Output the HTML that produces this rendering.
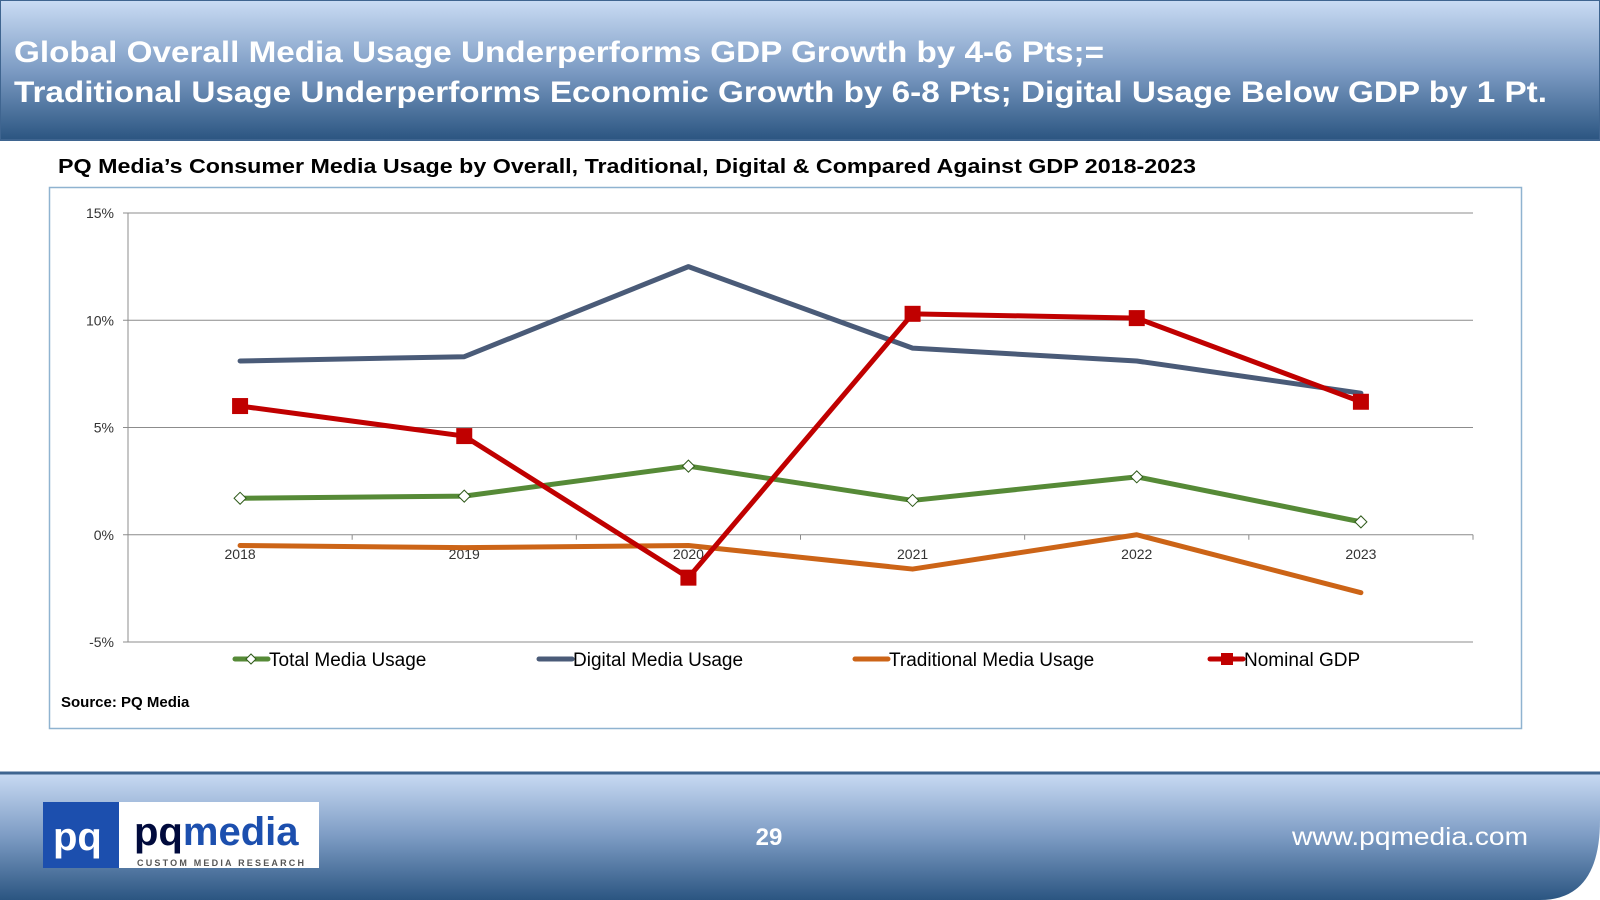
<!DOCTYPE html>
<html><head><meta charset="utf-8">
<style>
html,body{margin:0;padding:0;width:1600px;height:900px;overflow:hidden;background:#fff;font-family:"Liberation Sans",Arial,sans-serif}
svg{display:block}
</style></head>
<body>
<svg width="1600" height="900" viewBox="0 0 1600 900">
<defs>
<linearGradient id="hg" x1="0" y1="0" x2="0" y2="1">
<stop offset="0" stop-color="#cadcf4"/><stop offset="0.5" stop-color="#7d9cc4"/><stop offset="1" stop-color="#2b5581"/>
</linearGradient>
<linearGradient id="fg" x1="0" y1="0" x2="0" y2="1">
<stop offset="0" stop-color="#cadcf4"/><stop offset="0.5" stop-color="#7d9cc4"/><stop offset="1" stop-color="#2b5581"/>
</linearGradient>
</defs>
<g>
<rect x="0" y="0" width="1600" height="140" fill="url(#hg)" stroke="#3f6590" stroke-width="2"/>
<text x="14" y="62" font-size="30" font-weight="bold" fill="#fff" textLength="1090" lengthAdjust="spacingAndGlyphs">Global Overall Media Usage Underperforms GDP Growth by 4-6 Pts;=</text>
<text x="14" y="102" font-size="30" font-weight="bold" fill="#fff" textLength="1533" lengthAdjust="spacingAndGlyphs">Traditional Usage Underperforms Economic Growth by 6-8 Pts; Digital Usage Below GDP by 1 Pt.</text>
</g>
<text x="58" y="173" font-size="20" font-weight="bold" fill="#000" textLength="1138" lengthAdjust="spacingAndGlyphs">PQ Media’s Consumer Media Usage by Overall, Traditional, Digital &amp; Compared Against GDP 2018-2023</text>
<rect x="49.5" y="187.5" width="1472" height="541" fill="#fff" stroke="#8fb3d0" stroke-width="1.5"/>
<g id="plot"></g>
<g id="legend"></g>
<text x="61" y="707" font-size="15" font-weight="bold" fill="#000">Source: PQ Media</text>
<g>
<path d="M0 772 H1600 V820 Q1600 900 1540 900 H0 Z" fill="url(#fg)"/>
<line x1="0" y1="773" x2="1600" y2="773" stroke="#3f6590" stroke-width="3"/>
<g>
<rect x="43" y="802" width="276" height="66" fill="#fff"/>
<rect x="43" y="802" width="76" height="66" fill="#1c4fae"/>
<text x="53" y="850" font-size="40" font-weight="bold" fill="#fff">pq</text>
<text x="134" y="845" font-size="40" font-weight="bold" fill="#000a3c">pq<tspan fill="#1c4fae">media</tspan></text>
<text x="137" y="866" font-size="9" font-weight="bold" fill="#555" letter-spacing="2.2">CUSTOM MEDIA RESEARCH</text>
</g>
<text x="769" y="845" font-size="24" font-weight="bold" fill="#fff" text-anchor="middle">29</text>
<text x="1528" y="845" font-size="25" fill="#fff" text-anchor="end" textLength="236" lengthAdjust="spacingAndGlyphs">www.pqmedia.com</text>
</g>
</svg>
<script>
const categories = ["2018","2019","2020","2021","2022","2023"];
const totalUsage = [1.7, 1.8, 3.2, 1.6, 2.7, 0.6];
const digitalUsage = [8.1, 8.3, 12.5, 8.7, 8.1, 6.6];
const traditionalUsage = [-0.5, -0.6, -0.5, -1.6, 0.0, -2.7];
const nominalGdp = [6.0, 4.6, -2.0, 10.3, 10.1, 6.2];
const yTicks = [-5, 0, 5, 10, 15];
const yTickLabels = ["-5%","0%","5%","10%","15%"];
const seriesNames = ["Total Media Usage","Digital Media Usage","Traditional Media Usage","Nominal GDP"];

const NS = "http://www.w3.org/2000/svg";
const L = 128, R = 1473, T = 213, B = 642;
const yMin = -5, yMax = 15;
function y(v){ return B - (v - yMin) / (yMax - yMin) * (B - T); }
function x(i){ const w = (R - L) / categories.length; return L + w * (i + 0.5); }
function mk(tag, attrs, parent){ const e = document.createElementNS(NS, tag); for (const k in attrs) e.setAttribute(k, attrs[k]); parent.appendChild(e); return e; }
const plot = document.getElementById('plot');

yTicks.forEach((t, i) => {
  const g = mk('line', {x1: L, x2: R, y1: y(t), y2: y(t), stroke: '#8c8c8c', 'stroke-width': 1}, plot);
  
  
  const tk = mk('line', {x1: L - 5, x2: L, y1: y(t), y2: y(t), stroke: '#8c8c8c'}, plot);
  
  
  const tx = mk('text', {x: L - 14, y: y(t) + 5, 'font-size': 14, fill: '#333', 'text-anchor': 'end'}, plot);
  tx.textContent = yTickLabels[i];
  
  
});
const ax = mk('line', {x1: L, x2: L, y1: T, y2: B, stroke: '#8c8c8c'}, plot);


for (let i = 0; i <= categories.length; i++) {
  const xx = L + (R - L) / categories.length * i;
  const tk = mk('line', {x1: xx, x2: xx, y1: y(0), y2: y(0) + 5, stroke: '#8c8c8c'}, plot);
  
  
}
categories.forEach((c, i) => {
  const tx = mk('text', {x: x(i), y: y(0) + 24, 'font-size': 14, fill: '#333', 'text-anchor': 'middle'}, plot);
  tx.textContent = c;
  
  
});

function series(vals, color, name){
  const p = mk('polyline', {points: vals.map((v, i) => x(i) + ',' + y(v)).join(' '), fill: 'none', stroke: color, 'stroke-width': 5, 'stroke-linejoin': 'round', 'stroke-linecap': 'round'}, plot);
  
  
}
series(digitalUsage, '#4a5b78', 'digital-media-usage-line');
series(totalUsage, '#568a37', 'total-media-usage-line');
series(traditionalUsage, '#cc6417', 'traditional-media-usage-line');
series(nominalGdp, '#c00000', 'nominal-gdp-line');
totalUsage.forEach((v, i) => {
  const d = mk('path', {d: `M${x(i)-6},${y(v)} L${x(i)},${y(v)-6} L${x(i)+6},${y(v)} L${x(i)},${y(v)+6} Z`, fill: '#fff', stroke: '#2f5a1a', 'stroke-width': 1}, plot);
  
  
});
nominalGdp.forEach((v, i) => {
  const s = mk('rect', {x: x(i) - 8, y: y(v) - 8, width: 16, height: 16, fill: '#c00000'}, plot);
  
  
});

const leg = document.getElementById('legend');
const legColors = ['#568a37', '#4a5b78', '#cc6417', '#c00000'];
const legX = [235, 539, 855, 1210];
seriesNames.forEach((n, i) => {
  const g = mk('g', {}, leg);
  
  
  mk('line', {x1: legX[i], x2: legX[i] + 33, y1: 659, y2: 659, stroke: legColors[i], 'stroke-width': 5, 'stroke-linecap': 'round'}, g);
  if (i === 0) mk('path', {d: `M${legX[i]+11},659 l5,-5 l5,5 l-5,5 z`, fill: '#fff', stroke: '#2f5a1a'}, g);
  if (i === 3) mk('rect', {x: legX[i] + 11, y: 653, width: 12, height: 12, fill: '#c00000'}, g);
  const t = mk('text', {x: legX[i] + 34, y: 666, 'font-size': 19, fill: '#000'}, g);
  t.textContent = n;
});
</script>
</body></html>
